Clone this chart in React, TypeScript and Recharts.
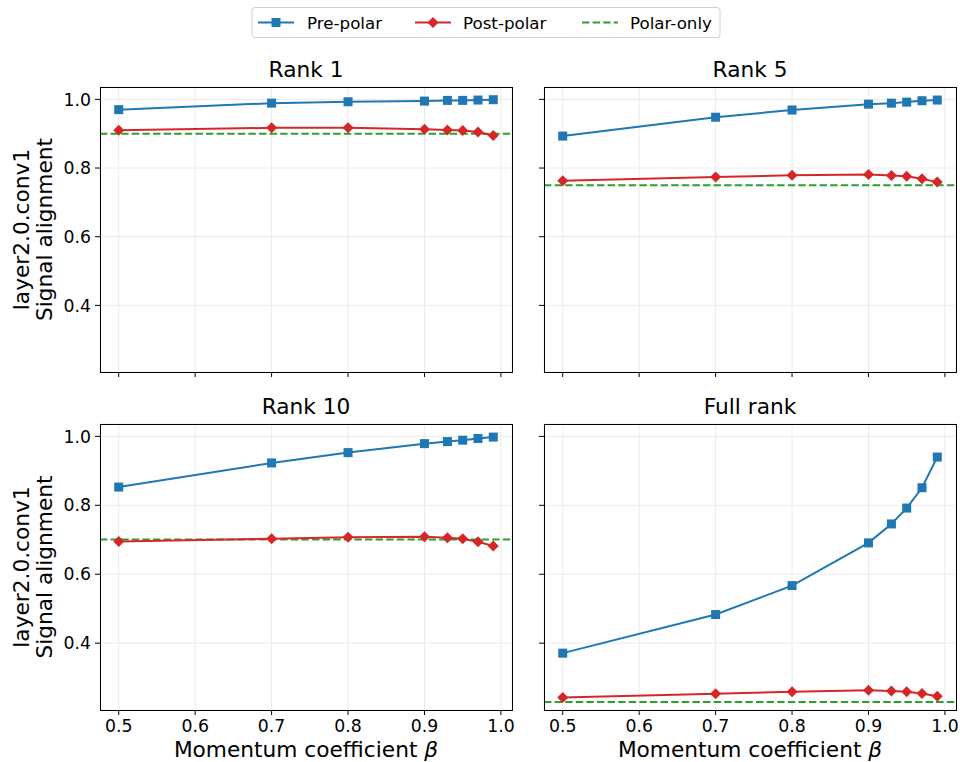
import React from "react";
import { LineChart, Line, XAxis, YAxis, CartesianGrid, ReferenceLine } from "recharts";

const beta = [0.5, 0.7, 0.8, 0.9, 0.93, 0.95, 0.97, 0.99];
const xTicks = [0.5, 0.6, 0.7, 0.8, 0.9, 1.0];
const yTicks = [0.4, 0.6, 0.8, 1.0];

const rank1Pre = [0.970, 0.989, 0.993, 0.995, 0.997, 0.997, 0.998, 0.999];
const rank1Post = [0.910, 0.917, 0.917, 0.913, 0.911, 0.909, 0.905, 0.895];
const rank1Polar = 0.900;

const rank5Pre = [0.893, 0.948, 0.969, 0.986, 0.989, 0.992, 0.996, 0.998];
const rank5Post = [0.763, 0.774, 0.779, 0.781, 0.778, 0.776, 0.769, 0.759];
const rank5Polar = 0.750;

const rank10Pre = [0.853, 0.923, 0.953, 0.979, 0.985, 0.989, 0.994, 0.998];
const rank10Post = [0.695, 0.703, 0.707, 0.709, 0.706, 0.703, 0.694, 0.682];
const rank10Polar = 0.701;

const fullPre = [0.371, 0.483, 0.567, 0.691, 0.746, 0.792, 0.851, 0.940];
const fullPost = [0.242, 0.253, 0.259, 0.263, 0.261, 0.259, 0.254, 0.246];
const fullPolar = 0.229;

const BLUE = "#1f77b4";
const RED = "#d62728";
const GREEN = "#2ca02c";
const FONT = "DejaVu Sans, sans-serif";

const SquareDot = (props: any) => {
  const { cx, cy, index } = props;
  if (cx == null || cy == null) return <g key={`s${index}`} />;
  return <rect key={`s${index}`} x={cx - 4.5} y={cy - 4.5} width={9} height={9} fill={BLUE} />;
};

const DiamondDot = (props: any) => {
  const { cx, cy, index } = props;
  if (cx == null || cy == null) return <g key={`d${index}`} />;
  const r = 5.5;
  return (
    <polygon
      key={`d${index}`}
      points={`${cx},${cy - r} ${cx + r},${cy} ${cx},${cy + r} ${cx - r},${cy}`}
      fill={RED}
    />
  );
};

type PanelProps = {
  left: number;
  top: number;
  w: number;
  h: number;
  pre: number[];
  post: number[];
  polar: number;
  showX: boolean;
  showY: boolean;
};

const Y_W = 60;
const X_H = 34;

function Panel({ left, top, w, h, pre, post, polar, showX, showY }: PanelProps) {
  const data = beta.map((b, i) => ({ b, pre: pre[i], post: post[i] }));
  const tickStyle = { fill: "#000", fontSize: 17.3, fontFamily: FONT };
  return (
    <div style={{ position: "absolute", left: left - Y_W, top: top - 2 }}>
      <LineChart
        width={Y_W + w + 8}
        height={h + 2 + X_H}
        data={data}
        margin={{ top: 2, right: 8, bottom: 0, left: 0 }}
      >
        <CartesianGrid stroke="#ebebeb" strokeWidth={1} fill="none" />
        <XAxis
          dataKey="b"
          type="number"
          domain={[0.4755, 1.0145]}
          ticks={xTicks}
          allowDataOverflow
          axisLine={false}
          tickLine={{ stroke: "#000", strokeWidth: 1 }}
          tickSize={5}
          tickMargin={5}
          height={X_H}
          tick={tickStyle}
          tickFormatter={(v: number) => (showX ? v.toFixed(1) : "")}
        />
        <YAxis
          type="number"
          domain={[0.206, 1.036]}
          ticks={yTicks}
          allowDataOverflow
          axisLine={false}
          tickLine={{ stroke: "#000", strokeWidth: 1 }}
          tickSize={5}
          tickMargin={4}
          width={Y_W}
          tick={tickStyle}
          tickFormatter={(v: number) => (showY ? v.toFixed(1) : "")}
        />
        <ReferenceLine y={polar} stroke={GREEN} strokeWidth={2} strokeDasharray="7.4 3.2" />
        <Line
          dataKey="pre"
          stroke={BLUE}
          strokeWidth={2}
          dot={SquareDot}
          activeDot={false}
          isAnimationActive={false}
        />
        <Line
          dataKey="post"
          stroke={RED}
          strokeWidth={2}
          dot={DiamondDot}
          activeDot={false}
          isAnimationActive={false}
        />
      </LineChart>
    </div>
  );
}

const panels = [
  { title: "Rank 1", left: 100, top: 87, w: 412, h: 285, pre: rank1Pre, post: rank1Post, polar: rank1Polar, showX: false, showY: true },
  { title: "Rank 5", left: 544, top: 87, w: 412, h: 285, pre: rank5Pre, post: rank5Post, polar: rank5Polar, showX: false, showY: false },
  { title: "Rank 10", left: 100, top: 424, w: 412, h: 286, pre: rank10Pre, post: rank10Post, polar: rank10Polar, showX: true, showY: true },
  { title: "Full rank", left: 544, top: 424, w: 412, h: 286, pre: fullPre, post: fullPost, polar: fullPolar, showX: true, showY: false },
];

export default function App() {
  return (
    <div style={{ position: "absolute", left: 0, top: 0, width: 960, height: 762, background: "#fff" }}>
      {panels.map((p) => (
        <Panel key={p.title} {...p} />
      ))}
      <svg
        width={960}
        height={762}
        style={{ position: "absolute", left: 0, top: 0, pointerEvents: "none" }}
        fontFamily={FONT}
      >
        {panels.map((p) => (
          <g key={p.title}>
            <rect x={p.left + 0.5} y={p.top + 0.5} width={p.w} height={p.h} fill="none" stroke="#000" strokeWidth={1} />
            <text x={p.left + p.w / 2} y={p.top - 10} textAnchor="middle" fontSize={21.7} fill="#000">
              {p.title}
            </text>
            {p.showX && (
              <text x={p.left + p.w / 2} y={757} textAnchor="middle" fontSize={21.7} fill="#000">
                Momentum coefficient <tspan fontStyle="italic">β</tspan>
              </text>
            )}
            {p.showY && (
              <g>
                <text transform={`translate(28.5, ${p.top + p.h / 2}) rotate(-90)`} textAnchor="middle" fontSize={21.7} fill="#000">
                  layer2.0.conv1
                </text>
                <text transform={`translate(51.5, ${p.top + p.h / 2}) rotate(-90)`} textAnchor="middle" fontSize={21.7} fill="#000">
                  Signal alignment
                </text>
              </g>
            )}
          </g>
        ))}
        <g>
          <rect x={252} y={7.5} width={468} height={30} rx={3} fill="#fff" stroke="#d0d0d0" strokeWidth={1} />
          <line x1={258} y1={22.5} x2={294} y2={22.5} stroke={BLUE} strokeWidth={2} />
          <rect x={271.5} y={18} width={9} height={9} fill={BLUE} />
          <text x={307} y={28.5} fontSize={16.7} fill="#000">Pre-polar</text>
          <line x1={415} y1={22.5} x2={451} y2={22.5} stroke={RED} strokeWidth={2} />
          <polygon points="433,17 438.5,22.5 433,28 427.5,22.5" fill={RED} />
          <text x={463} y={28.5} fontSize={16.7} fill="#000">Post-polar</text>
          <line x1={582} y1={22.5} x2={618} y2={22.5} stroke={GREEN} strokeWidth={2} strokeDasharray="7.4 3.2" />
          <text x={630} y={28.5} fontSize={16.7} fill="#000">Polar-only</text>
        </g>
      </svg>
    </div>
  );
}
